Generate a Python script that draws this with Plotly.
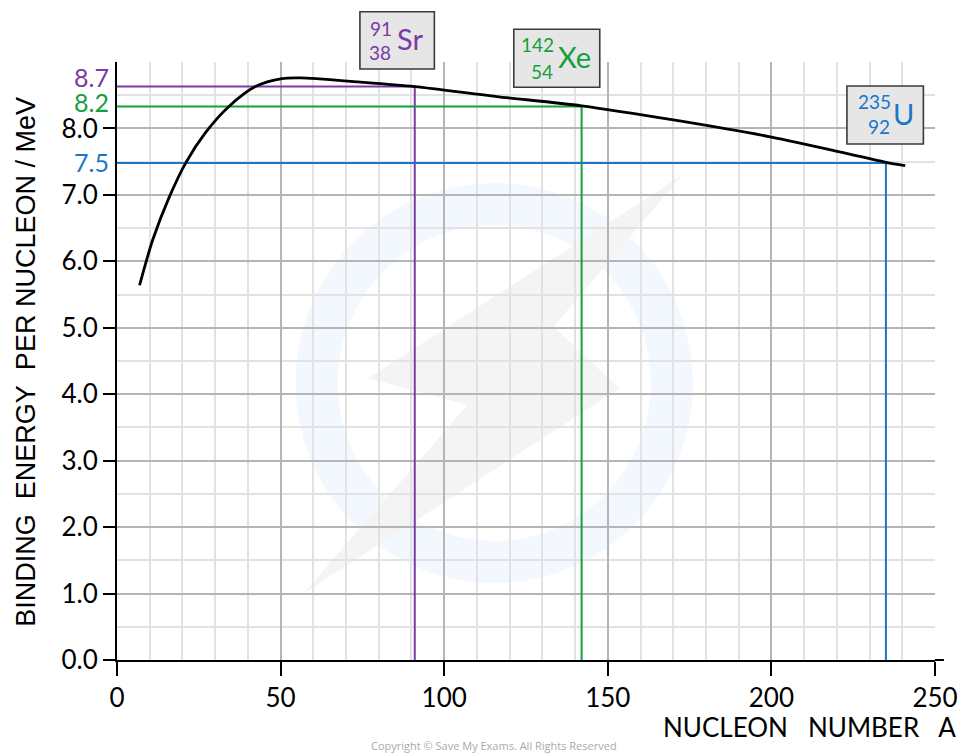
import plotly.graph_objects as go

# ---------------- data ----------------
curve_A = [6.9, 10.9, 16.0, 21.1, 27.1, 34.2, 42.3, 50.4, 56.0, 73.7, 91.0, 116.0, 142.0, 171.0, 200.0, 221.6, 235.0, 240.9]
curve_BE = [5.64, 6.32, 6.97, 7.49, 7.94, 8.33, 8.63, 8.75, 8.76, 8.70, 8.63, 8.48, 8.34, 8.12, 7.87, 7.64, 7.49, 7.44]

nuclide_A = [91, 142, 235]
nuclide_Z = [38, 54, 92]
nuclide_symbol = ["Sr", "Xe", "U"]
nuclide_BE = [8.63, 8.33, 7.48]
nuclide_label = ["8.7", "8.2", "7.5"]
nuclide_label_y = [8.78, 8.40, 7.50]
nuclide_color = ["#7b3aa6", "#14a03c", "#1877c9"]

x_ticks = [0, 50, 100, 150, 200, 250]
y_ticks = [0, 1, 2, 3, 4, 5, 6, 7, 8]
y_ticktext = ["0.0", "1.0", "2.0", "3.0", "4.0", "5.0", "6.0", "7.0", "8.0"]

# ---------------- layout geometry ----------------
WIDTH, HEIGHT = 970, 753
L, R, T, B = 117, 29, 62, 93
PW = WIDTH - L - R
PH = HEIGHT - T - B


def px(x):
    return (x - L) / PW


def py(y):
    return (T + PH - y) / PH


TICK_FONT = "Lato, 'Noto Sans', sans-serif"

fig = go.Figure()

# reference lines for nuclides
for A, be, col in zip(nuclide_A, nuclide_BE, nuclide_color):
    fig.add_trace(go.Scatter(x=[0, A, A], y=[be, be, 0], mode="lines",
                             line=dict(color=col, width=2), hoverinfo="skip",
                             showlegend=False, cliponaxis=False))

# binding energy curve
fig.add_trace(go.Scatter(x=curve_A, y=curve_BE, mode="lines",
                         line=dict(color="black", width=2.8, shape="spline", smoothing=0.8),
                         showlegend=False))

shapes = []
# watermark ring and bolt
cx, cy, r = 497, 383, 179
shapes.append(dict(type="circle", xref="paper", yref="paper",
                   x0=px(cx - r), x1=px(cx + r), y0=py(cy + r), y1=py(cy - r),
                   line=dict(color="#f3f8fe", width=42), layer="below"))
bolt = [(686.7, 175), (370, 378.3), (470, 405), (305, 593.3), (623.3, 388.3), (556.7, 326.7)]
path = "M " + " L ".join(f"{px(a):.4f},{py(b):.4f}" for a, b in bolt) + " Z"
shapes.append(dict(type="path", xref="paper", yref="paper", path=path,
                   fillcolor="#f4f4f4", line=dict(width=0), layer="below"))
# x-axis extension to the right
shapes.append(dict(type="line", xref="paper", yref="paper", x0=1, x1=px(950), y0=0, y1=0,
                   line=dict(color="black", width=2)))

# nuclide boxes
boxes = [(361.7, 11.7, 436.7, 69), (516.7, 29.3, 603.3, 87.3), (852.3, 86, 929.3, 144)]
for (x0, y0, x1, y1) in boxes:
    shapes.append(dict(type="rect", xref="paper", yref="paper",
                       x0=px(x0), x1=px(x1), y0=py(y1), y1=py(y0),
                       fillcolor="#e6e6e6", line=dict(color="#3a3a3a", width=1.6), layer="above"))

annotations = []
# positions (pixel) of mass number, atomic number, symbol in each box
mass_pos = [(383, 28), (541, 44), (880, 102)]
z_pos = [(382, 52), (545, 71), (885, 126)]
sym_pos = [(412, 39), (578, 57), (909, 113)]
for i in range(3):
    col = nuclide_color[i]
    annotations.append(dict(xref="paper", yref="paper", x=px(mass_pos[i][0]), y=py(mass_pos[i][1]),
                            text=str(nuclide_A[i]), showarrow=False, xanchor="center", yanchor="middle",
                            font=dict(family=TICK_FONT, size=19, color=col)))
    annotations.append(dict(xref="paper", yref="paper", x=px(z_pos[i][0]), y=py(z_pos[i][1]),
                            text=str(nuclide_Z[i]), showarrow=False, xanchor="center", yanchor="middle",
                            font=dict(family=TICK_FONT, size=19, color=col)))
    annotations.append(dict(xref="paper", yref="paper", x=px(sym_pos[i][0]), y=py(sym_pos[i][1]),
                            text=nuclide_symbol[i], showarrow=False, xanchor="center", yanchor="middle",
                            font=dict(family=TICK_FONT, size=29, color=col)))
    annotations.append(dict(xref="paper", yref="y", x=px(111), y=nuclide_label_y[i],
                            text=nuclide_label[i], showarrow=False, xanchor="right", yanchor="middle",
                            font=dict(family=TICK_FONT, size=25, color=col)))

annotations.append(dict(xref="paper", yref="paper", x=px(964), y=py(727),
                        text="NUCLEON&nbsp;&nbsp;&nbsp;NUMBER&nbsp;&nbsp;&nbsp;A", showarrow=False,
                        xanchor="right", yanchor="middle",
                        font=dict(family=TICK_FONT, size=26, color="black")))
annotations.append(dict(xref="paper", yref="paper", x=px(25), y=py(362),
                        text="BINDING&nbsp;&nbsp;ENERGY&nbsp;&nbsp;PER NUCLEON / MeV", showarrow=False,
                        textangle=-90, xanchor="center", yanchor="middle",
                        font=dict(family="'Liberation Sans', Arial, sans-serif", size=27, color="black")))
annotations.append(dict(xref="paper", yref="paper", x=px(497), y=py(746),
                        text="Copyright © Save My Exams. All Rights Reserved", showarrow=False,
                        xanchor="center", yanchor="middle",
                        font=dict(family="'Open Sans', sans-serif", size=11, color="#aaaaaa")))

fig.update_layout(
    width=WIDTH, height=HEIGHT, autosize=False,
    margin=dict(l=L, r=R, t=T, b=B, pad=0),
    plot_bgcolor="white", paper_bgcolor="white",
    shapes=shapes, annotations=annotations,
    xaxis=dict(range=[0, 250], tickmode="array", tickvals=x_ticks,
               showline=True, linecolor="black", linewidth=2,
               ticks="outside", ticklen=14, tickwidth=2, tickcolor="black",
               showgrid=True, gridcolor="#b5b5b5", gridwidth=1.5, zeroline=False,
               tickfont=dict(family=TICK_FONT, size=26, color="black"),
               minor=dict(dtick=10, tick0=0, showgrid=True, gridcolor="#e2e2e2", gridwidth=1.5, ticks="")),
    yaxis=dict(range=[0, 9], tickmode="array", tickvals=y_ticks, ticktext=y_ticktext,
               showline=True, linecolor="black", linewidth=2,
               ticks="outside", ticklen=12, tickwidth=2, tickcolor="black",
               showgrid=True, gridcolor="#b5b5b5", gridwidth=1.5, zeroline=False,
               tickfont=dict(family=TICK_FONT, size=26, color="black"),
               minor=dict(dtick=0.5, tick0=0, showgrid=True, gridcolor="#e2e2e2", gridwidth=1.5, ticks="")),
)

fig.write_html("out.html", config={"displayModeBar": False},
               post_script="document.body.style.margin='0px';")
